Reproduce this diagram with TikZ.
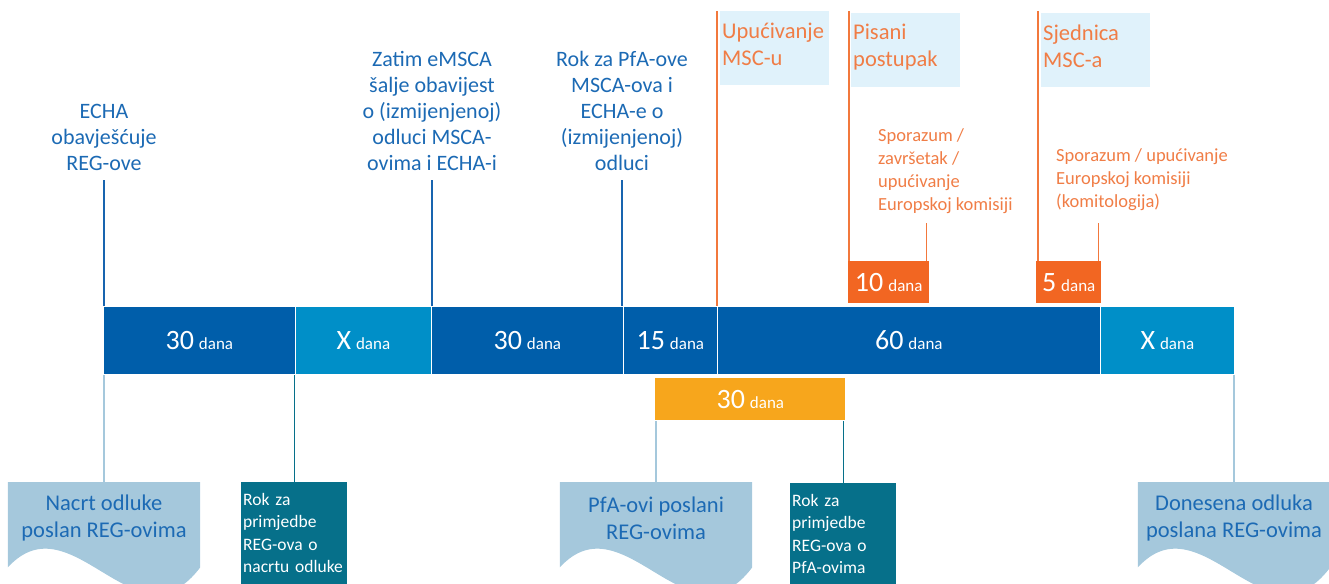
\documentclass[tikz,border=0pt]{standalone}
\usepackage{fontspec}
\setmainfont{Carlito}
\usetikzlibrary{backgrounds}
\definecolor{bardark}{RGB}{0,94,170}
\definecolor{barlight}{RGB}{0,143,200}
\definecolor{textblue}{RGB}{28,106,180}
\definecolor{lineblue}{RGB}{24,100,175}
\definecolor{orangeline}{RGB}{242,120,60}
\definecolor{orangetext}{RGB}{240,125,70}
\definecolor{orangebox}{RGB}{242,102,34}
\definecolor{yellowbar}{RGB}{247,166,28}
\definecolor{paleblue}{RGB}{224,242,251}
\definecolor{docfill}{RGB}{165,200,220}
\definecolor{rokteal}{RGB}{6,112,138}
\newcommand{\dani}[1]{{\fontsize{28}{28}\selectfont #1}\hspace{5pt}{\fontsize{17}{17}\selectfont dana}}
\begin{document}
\begin{tikzpicture}[x=1pt,y=-1pt,
    seg/.style={anchor=north west, minimum height=68pt, inner sep=0pt, draw=white, line width=0.7pt, text=white},
    obox/.style={anchor=north west, minimum height=42pt, inner sep=0pt, fill=orangebox, text=white},
    toptext/.style={anchor=south, align=center, text=textblue, font=\fontsize{22}{26}\selectfont, inner sep=2pt, outer sep=7pt},
    mscbox/.style={anchor=north west, fill=paleblue, text=orangetext, align=left, text width=105pt, inner xsep=2pt, minimum height=74pt, font=\fontsize{22.5}{27}\selectfont},
    orangetxt/.style={anchor=north west, align=left, text=orangetext, inner sep=0pt, font=\fontsize{18.5}{23.3}\selectfont},
    doc/.style={anchor=north, minimum width=192pt, minimum height=72pt, align=center, text=textblue, inner sep=0pt, font=\fontsize{22.5}{27}\selectfont},
    rokbox/.style={anchor=north west, fill=rokteal, text=white, align=left, text width=102pt, inner xsep=2pt, inner ysep=11pt, font=\fontsize{17.5}{22.5}\selectfont},
    bline/.style={draw=lineblue, line width=1.4pt},
    oline/.style={draw=orangeline, line width=1.6pt},
    lline/.style={draw=docfill, line width=1.4pt},
    tline/.style={draw=rokteal, line width=1.4pt}]
\useasboundingbox (0,0) rectangle (1329,583);
% main bar
\foreach \n/\xa/\xb/\c/\d in {s1/103/295/bardark/30, s2/295/431/barlight/X, s3/431/623/bardark/30, s4/623/717/bardark/15, s5/717/1100/bardark/60, s6/1100/1234/barlight/X}
    \node[seg, fill=\c, minimum width={(\xb-\xa)*1pt}] (\n) at (\xa,306) {\dani{\d}};
\node[seg, draw=none, fill=yellowbar, minimum width=190pt, minimum height=42pt] (y30) at (655,378) {\dani{30}};
\node[obox, minimum width=81pt] (d10) at (848,261) {\dani{10}};
\node[obox, minimum width=65pt] (d5) at (1036,261) {\dani{5}};
% top texts
\node[toptext] (echa) at (104,180) {ECHA\\obavješćuje\\REG-ove};
\node[toptext] (zatim) at (432,180) {Zatim eMSCA\\šalje obavijest\\o (izmijenjenoj)\\odluci MSCA-\\ovima i ECHA-i};
\node[toptext] (rokpfa) at (622,180) {Rok za PfA-ove\\MSCA-ova i\\ECHA-e o\\(izmijenjenoj)\\odluci};
\draw[bline] (echa) -- (echa |- s1.north);
\draw[bline] (zatim) -- (zatim |- s3.north);
\draw[bline] (rokpfa) -- (rokpfa |- s4.north);
% MSC steps
\coordinate (ou) at (717,11);
\coordinate (op) at (849,11);
\coordinate (os) at (1038,11);
\node[mscbox] (msc) at (720,11) {Upućivanje\\MSC-u\vspace{7pt}};
\node[mscbox] (pisani) at (851,13) {Pisani\\postupak\vspace{7pt}};
\node[mscbox] (sjednica) at (1041,13) {Sjednica\\MSC-a\vspace{7pt}};
\draw[oline] (ou) -- (ou |- s5.north);
\draw[oline] (op) -- (op |- d10.north);
\draw[oline] (os) -- (os |- d5.north);
\draw[oline] ([xshift=-3pt]d10.north east) -- ++(0,-38);
\draw[oline] ([xshift=-3pt]d5.north east) -- ++(0,-38);
\node[orangetxt] (spor1) at (878,128) {Sporazum /\\završetak /\\upućivanje\\Europskoj komisiji};
\node[orangetxt] (spor2) at (1056,148) {Sporazum / upućivanje\\Europskoj komisiji\\(komitologija)};
% documents
\foreach \n/\x/\t in {nacrt/104/{Nacrt odluke\\poslan REG-ovima}, pfa/656/{PfA-ovi poslani\\REG-ovima}, donesena/1234/{Donesena odluka\\poslana REG-ovima}} {
    \node[doc] (\n) at (\x,482) {\t};
    \begin{scope}[on background layer]
        \fill[docfill] (\n.north west) -- ([yshift=-13pt]\n.south west) .. controls +(64,-70) and +(-64,85) .. ([yshift=-13pt]\n.south east) -- (\n.north east) -- cycle;
    \end{scope}
}
\node[rokbox] (rok1) at (241,482) {Rok za\\primjedbe\\REG-ova o\\nacrtu odluke};
\node[rokbox] (rok2) at (790,483) {Rok za\\primjedbe\\REG-ova o\\PfA-ovima};
\draw[lline] (nacrt) -- (nacrt |- s1.south);
\draw[tline] (rok1) -- (rok1 |- s2.south);
\draw[lline] (pfa) -- (pfa |- y30.south);
\draw[tline] (rok2) -- (rok2 |- y30.south);
\draw[lline] (donesena) -- (donesena |- s6.south);
\end{tikzpicture}
\end{document}
